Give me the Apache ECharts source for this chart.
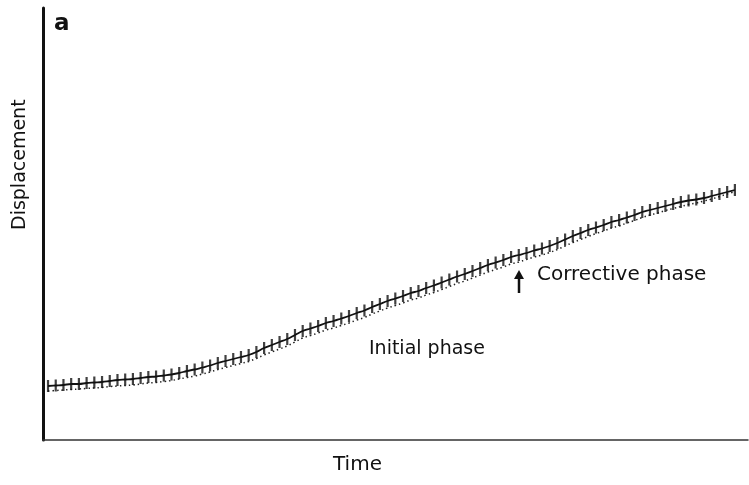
<!DOCTYPE html>
<html>
<head>
<meta charset="utf-8">
<script src="https://cdn.jsdelivr.net/npm/echarts@6/dist/echarts.min.js"></script>
<style>html,body{margin:0;padding:0;background:#fff}#c{width:749px;height:485px}</style>
</head>
<body>
<div id="c"></div>
<script>
// sample index (time steps) 0..89
const samples = Array.from({length: 90}, (_, i) => i);
// displacement (arbitrary units)
const displacement = [54, 54.5, 55, 56, 56, 57, 57.5, 58, 59, 60, 60.5, 61, 62, 63, 63.5, 64.5, 65.5, 67, 69, 70.5,
  72.5, 74.5, 77, 79, 81, 83, 85, 88, 92, 95, 98, 101, 105, 109, 111.5, 114, 117, 119, 121.5, 124,
  127, 129.5, 133, 136, 139, 141.5, 144, 147, 149, 152, 154.5, 157.5, 160.5, 163.5, 166, 169, 172, 175, 177.5, 180,
  183, 185, 187, 189.5, 191.5, 194, 197, 200.5, 204, 207, 210, 212.5, 215, 218, 220, 222.5, 225, 228, 230, 232,
  234, 236, 238, 239.5, 240.5, 242, 244, 246, 248, 250];
// dotted reference trace (slightly below)
const reference = [49, 49.5, 50, 50.5, 51, 51.5, 52, 52.5, 53.5, 54, 54.5, 55, 56, 57, 57.5, 58.5, 59.5, 61, 62.5, 64,
  66, 68, 70.5, 72.5, 74.5, 76.5, 78.5, 81.5, 85, 88, 91, 94, 98, 102, 104.5, 107, 110, 112, 114.5, 117,
  120, 122.5, 126, 129, 132, 134.5, 137, 140, 142, 145, 147.5, 150.5, 153.5, 156.5, 159, 162, 165, 168, 170.5, 173,
  176, 178, 180.5, 183, 185, 187.5, 190.5, 194, 197.5, 200.5, 203.5, 206.5, 209, 212, 214, 217, 219.5, 222.5, 225, 227,
  229.5, 231.5, 233.5, 235.5, 237, 239, 241, 243.5, 246, 248.5];
const labels = {y: 'Displacement', x: 'Time', panel: 'a', initial: 'Initial phase', corrective: 'Corrective phase'};

const mainData = samples.map((s, i) => [s, displacement[i]]);
const refData = samples.map((s, i) => [s, reference[i]]);
const fontFam = "'DejaVu Sans','Liberation Sans',sans-serif";

const chart = echarts.init(document.getElementById('c'));
chart.setOption({
  animation: false,
  backgroundColor: '#fff',
  grid: {left: 43, right: 1, top: 8, bottom: 45, containLabel: false, outerBoundsMode: 'none'},
  xAxis: {
    type: 'value', min: -0.65, max: 90.7,
    axisLine: {show: true, onZero: false, lineStyle: {color: '#333', width: 1.5}},
    axisTick: {show: false}, axisLabel: {show: false}, splitLine: {show: false}
  },
  yAxis: {
    type: 'value', min: 0, max: 432,
    axisLine: {show: true, onZero: false, lineStyle: {color: '#111', width: 3}},
    axisTick: {show: false}, axisLabel: {show: false}, splitLine: {show: false}
  },
  series: [
    {
      type: 'line', data: refData, symbol: 'none', z: 1, smooth: 0.4,
      lineStyle: {color: '#222', width: 1.5, type: [1.5, 3]}
    },
    {
      type: 'line', data: mainData, symbol: 'none', z: 2, smooth: 0.4,
      lineStyle: {color: '#111', width: 1.8}
    },
    {
      type: 'scatter', data: mainData, symbol: 'rect', symbolSize: [2.2, 12], z: 3,
      itemStyle: {color: '#111'}
    }
  ],
  graphic: [
    {type: 'text', x: 11, y: 230, rotation: Math.PI / 2, style: {text: labels.y, font: '19px ' + fontFam, fill: '#111'}},
    {type: 'text', left: 333, top: 455, style: {text: labels.x, font: '20px ' + fontFam, fill: '#111'}},
    {type: 'text', left: 54, top: 13, style: {text: labels.panel, font: 'bold 23px ' + fontFam, fill: '#111'}},
    {type: 'text', left: 369, top: 340, style: {text: labels.initial, font: '19px ' + fontFam, fill: '#111'}},
    {type: 'text', left: 537, top: 265, style: {text: labels.corrective, font: '20px ' + fontFam, fill: '#111'}},
    {type: 'line', shape: {x1: 519, y1: 277, x2: 519, y2: 293}, style: {stroke: '#111', lineWidth: 2.5}},
    {type: 'polygon', shape: {points: [[514, 279], [524, 279], [519, 270]]}, style: {fill: '#111'}}
  ]
});
</script>
</body>
</html>
